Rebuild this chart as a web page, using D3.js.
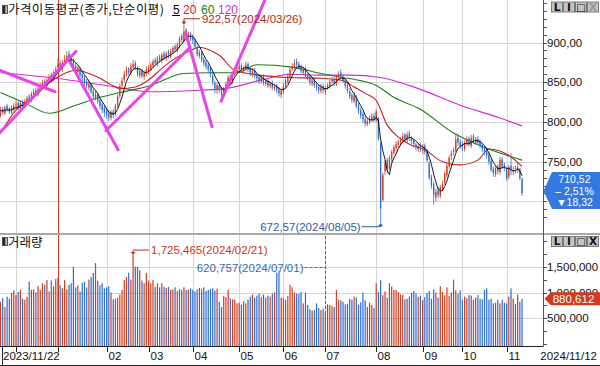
<!DOCTYPE html>
<html><head><meta charset="utf-8">
<script src="https://cdn.jsdelivr.net/npm/d3@7"></script>
<style>
html,body{margin:0;padding:0;background:#fff;}
svg{display:block;}
text{font-family:"Liberation Sans",Arial,sans-serif;}
</style></head><body>
<svg id="c" width="600" height="366"></svg>
<script>
// ---------------- DATA ----------------
const firstDate = "2023/11/22", lastDate = "2024/11/12";
const monthStarts = [7,26,48,67,87,108,128,147,170,191,209,229];
const monthLabels = ["12","01","02","03","04","05","06","07","08","09","10","11"];

const openP = [
808,817,811,820,817,812,815,
821,824,817,825,819,825,832,828,834,840,835,841,845,851,846,852,859,854,860,
869,874,867,874,878,886,881,877,871,863,867,860,856,851,843,847,839,830,834,827,822,818,
814,811,805,813,810,821,833,846,853,860,867,862,869,874,868,858,865,857,861,
864,867,871,878,873,882,877,886,880,888,882,888,895,890,896,908,902,916,905,911,
906,902,894,883,887,879,875,871,867,858,849,840,847,841,835,842,849,857,851,860,867,
866,871,864,867,873,867,860,865,859,856,851,857,848,852,845,849,842,846,841,834,
838,845,851,857,867,869,876,873,869,862,867,859,857,848,853,847,844,839,845,
838,843,845,851,854,848,857,862,857,851,846,839,834,826,831,821,815,810,804,797,800,803,808,
802,805,772,702,738,752,742,754,761,767,771,774,777,784,777,786,779,777,772,766,771,
764,770,763,748,731,722,705,714,707,716,724,733,744,757,762,764,780,775,
772,766,773,779,770,782,774,779,775,771,767,763,759,751,741,734,744,737,753,745,
740,731,745,738,742,739,741,728];
const highP = [
819,819,821,823,819,821,824,
827,826,827,828,829,833,835,838,842,843,845,849,853,854,856,860,862,865,870,
880,877,878,884,889,890,885,880,874,871,869,863,859,854,852,849,842,839,837,829,824,821,
818,815,815,816,823,835,848,856,864,870,869,874,878,877,870,867,867,865,870,
872,875,879,881,883,885,887,889,889,891,892,896,898,900,908,911,922.57,918,914,913,
910,905,897,891,890,882,878,874,869,861,852,849,850,844,844,851,859,860,863,869,873,
875,874,871,876,875,869,868,868,862,860,859,860,855,854,851,852,848,848,844,842,
849,855,861,869,874,879,880,876,872,869,870,862,860,855,856,850,847,848,848,
846,849,853,857,857,859,864,866,860,854,849,842,837,837,834,824,818,813,808,805,808,811,811,
816,806,775,736,752,755,758,765,771,776,778,781,786,786,788,789,782,779,774,773,774,
772,773,766,750,734,725,716,718,721,726,738,748,758,764,768,784,785,779,
776,777,782,782,784,785,781,782,778,774,770,766,762,754,744,745,747,756,756,749,
744,746,761,744,745,748,742,730];
const lowP = [
806,809,809,813,810,810,813,
816,815,814,815,817,822,825,825,831,832,832,839,842,844,843,849,852,851,857,
864,864,863,871,875,877,872,866,862,860,856,851,846,842,840,835,828,827,823,816,811,806,
804,801,802,805,807,818,830,843,850,857,859,859,866,865,857,855,855,853,858,
860,864,868,871,870,875,874,878,877,880,880,885,888,887,893,900,900,905,902,902,
898,892,882,880,875,870,866,862,856,846,836,835,837,828,831,838,846,848,848,857,862,
862,862,861,864,863,858,857,855,851,848,848,846,845,843,842,840,839,836,832,830,
835,842,848,855,864,866,869,865,861,859,855,852,846,845,843,839,835,836,836,
834,840,842,848,845,845,853,855,849,842,836,829,824,824,817,810,804,799,794,795,797,800,800,
800,776,672.57,700,733,736,739,750,758,763,767,770,773,774,773,776,772,768,764,762,762,
760,759,749,727,716,696,700,704,704,713,721,730,741,752,758,762,770,766,
763,763,770,769,767,773,771,771,767,762,758,754,746,737,731,731,734,734,741,738,
726,728,733,733,735,736,727,707];
const closeP = [
815,812,818,816,813,818,820,
822,819,824,818,826,830,828,835,838,836,842,846,849,847,853,857,855,862,866,
872,868,875,879,883,880,876,870,866,868,859,855,850,846,848,838,832,835,826,820,815,812,
810,806,812,809,820,832,845,852,860,866,862,870,873,868,860,864,858,862,866,
868,872,876,874,880,878,884,881,886,883,889,893,891,897,905,903,914,908,910,904,
903,895,885,888,878,874,870,866,860,850,842,846,840,834,841,848,856,852,860,866,868,
870,866,868,872,866,862,864,858,855,852,856,849,851,846,848,843,845,840,836,839,
845,852,858,866,870,874,872,868,864,866,858,856,850,852,846,843,840,844,840,
842,846,850,853,849,856,860,858,852,845,840,832,828,833,820,814,808,803,798,801,804,807,803,
813,779,691,733,748,741,755,762,768,772,775,778,782,778,784,780,776,772,768,770,766,
768,762,752,730,720,708,712,708,718,722,735,745,755,760,765,778,774,770,
768,774,778,772,780,776,778,774,770,766,762,758,750,740,736,742,738,752,744,742,
729,743,740,739,741,743,728.84,710.52];
// volume in thousands of shares
const volumeK = [
820,890,720,920,880,990,1040,
950,1010,1050,880,860,920,1210,1050,1060,1000,1120,1050,1180,1150,1240,1020,1230,1120,1260,
1290,1140,1080,1240,1060,1150,1180,1500,1100,1140,1020,1190,1210,1100,1250,1300,1380,1570,1230,1140,1180,1080,
1100,1120,1000,870,880,900,960,1050,1240,1300,1380,1250,1725.465,1500,1500,1430,1230,1180,1380,
1230,1180,1240,1110,1180,1100,1180,1110,1090,1110,1050,1060,1100,1030,1070,1050,1100,1050,1060,1080,
1050,1020,1060,1090,1060,1100,1030,1050,1070,1080,1040,1070,820,720,930,910,1050,890,870,860,790,
800,760,830,790,860,920,960,900,940,980,910,960,900,940,920,980,1000,1380,1410,900,
890,860,930,1150,1100,1000,980,970,1010,790,1000,760,680,650,660,790,700,660,690,
620.757,770,760,740,720,1050,860,850,820,770,780,880,860,920,900,760,810,1000,850,720,800,760,700,
1180,1010,1240,950,1020,900,1180,1120,1050,1050,1010,960,950,870,880,920,1000,1030,980,920,940,
850,910,990,1030,880,1060,1000,900,1120,1010,950,1100,930,1000,1250,1040,980,1040,
860,920,890,950,940,860,900,950,880,870,1050,1080,860,880,790,800,860,790,860,800,
790,920,1080,880,780,960,820,880.612];

// moving averages: [bar index, value]
const ma20Pts = [[0,786],[7,815],[15,831],[22,849],[29,861],[34,865],[40,861],[45,855],[50,847],[54,842],[61,844],[68,855],[72,865],[79,880],[86,890],[90,894],[95,890],[99,884],[106,865],[117,859],[130,856],[145,855],[155,852],[160,844],[165,836],[170,827],[175,796],[180,781],[185,772],[192,765],[200,750],[208,746],[216,752],[221,766],[231,756],[236,744]];
const ma60Pts = [[0,837],[11,824],[22,811],[34,821],[45,831],[54,837],[68,846],[83,861],[95,862],[107,862],[116,872],[132,869],[145,861],[155,856],[163,852],[170,846],[178,831],[190,816],[205,786],[218,769],[236,752]];
const ma120Pts = [[0,862],[25,855],[50,845],[68,838],[90,840],[102,842],[117,852],[131,860],[145,859],[158,859],[172,856],[190,841],[208,821],[226,805],[236,795]];
// user-drawn trend lines: [[index,value],[index,value]]
const trendLines = [[[-0.2,865],[24.7,838]],[[-1.1,784],[34.2,889]],[[31.5,875],[53.2,765]],[[47.7,789],[85.8,894]],[[83.9,911],[95.7,794]],[[99.8,826],[119.7,954]]];

const priceTicks = [700,750,800,850,900];
const volTicksK = [500,1000,1500];
const legendItems = [{t:"5",c:"#000"},{t:"20",c:"#d02020"},{t:"60",c:"#1e7d1e"},{t:"120",c:"#d22dd2"}];
const lastInfo = ["710,52","– 2,51%","▼18,32"];
const lastVolText = "880,612";
const hiNote = {i:83, v:922.57, t:"922,57(2024/03/26)"};
const loNote = {i:172, v:672.57, t:"672,57(2024/08/05)"};
const vHiNote = {i:60, v:1725.465, t:"1,725,465(2024/02/21)"};
const vLoNote = {i:147, v:620.757, t:"620,757(2024/07/01)"};

// ---------------- DRAW ----------------
const RED="#d33c1d", BLUE="#2c6dd1", GRID="#d6d6d6", AXC="#555";
const n = closeP.length;
const AX = 543.5;
const x = d3.scaleLinear().domain([0,n-1]).range([0.5,522.06]);
const y = d3.scaleLinear().domain([750,900]).range([161.7,42.5]);
const yv = d3.scaleLinear().domain([0,1500]).range([344.1,266.7]);
const svg = d3.select("#c");
const defs = svg.append("defs");
defs.append("clipPath").attr("id","cp").append("rect").attr("x",0).attr("y",0).attr("width",543).attr("height",233);
defs.append("clipPath").attr("id","cv").append("rect").attr("x",0).attr("y",235).attr("width",543).attr("height",111);
svg.append("rect").attr("width",600).attr("height",366).attr("fill","#fff");

const grid = svg.append("g");
priceTicks.forEach(v=>{
  const yy=Math.round(y(v))+0.5;
  grid.append("line").attr("x1",0).attr("x2",543).attr("y1",yy).attr("y2",yy).attr("stroke",GRID);
});
volTicksK.forEach(v=>{
  const yy=Math.round(yv(v))+0.5;
  grid.append("line").attr("x1",0).attr("x2",543).attr("y1",yy).attr("y2",yy).attr("stroke",GRID);
});
monthStarts.forEach((idx,k)=>{
  const px=Math.round(x(idx))+0.5;
  const isYear = monthLabels[k]==="01";
  grid.append("line").attr("x1",px).attr("x2",px).attr("y1",0).attr("y2",346)
    .attr("stroke",isYear?"#d23a2a":GRID);
});

// price panel
const pp = svg.append("g").attr("clip-path","url(#cp)");
const lineS = d3.line().x(d=>x(d[0])).y(d=>y(d[1])).curve(d3.curveMonotoneX);
pp.append("path").attr("d",lineS(ma120Pts)).attr("fill","none").attr("stroke","#d22dd2").attr("stroke-width",1.1);
pp.append("path").attr("d",lineS(ma60Pts)).attr("fill","none").attr("stroke","#1e7d1e").attr("stroke-width",1.1);
pp.append("path").attr("d",lineS(ma20Pts)).attr("fill","none").attr("stroke","#c81e1e").attr("stroke-width",1.1);

closeP.forEach((c,i)=>{
  const col = c>=openP[i]?RED:BLUE;
  const px = x(i);
  pp.append("line").attr("x1",px).attr("x2",px).attr("y1",y(highP[i])).attr("y2",y(lowP[i]))
    .attr("stroke",col).attr("stroke-width",0.8);
  const t=Math.min(y(openP[i]),y(c)), b=Math.max(y(openP[i]),y(c));
  pp.append("rect").attr("x",px-0.65).attr("width",1.3).attr("y",t).attr("height",Math.max(1,b-t)).attr("fill",col);
});
const ma5 = closeP.map((c,i)=>{const s=closeP.slice(Math.max(0,i-4),i+1);return [i,d3.mean(s)];});
pp.append("path").attr("d",d3.line().x(d=>x(d[0])).y(d=>y(d[1]))(ma5)).attr("fill","none").attr("stroke","#000").attr("stroke-width",0.9);

const lineT = d3.line().x(d=>x(d[0])).y(d=>y(d[1]));
trendLines.forEach(tl=>{
  pp.append("path").attr("d",lineT(tl)).attr("stroke","#e646e6").attr("stroke-width",3).attr("fill","none").attr("stroke-linecap","round");
});

// volume panel
const vp = svg.append("g").attr("clip-path","url(#cv)");
volumeK.forEach((v,i)=>{
  const col = closeP[i]>=openP[i]?RED:BLUE;
  vp.append("rect").attr("x",x(i)-0.6).attr("width",1.2).attr("y",yv(v)).attr("height",346-yv(v)).attr("fill",col);
});

// separator and axes
svg.append("rect").attr("x",0).attr("y",233).attr("width",600).attr("height",2).attr("fill","#a8a8a8");
svg.append("line").attr("x1",AX).attr("x2",AX).attr("y1",0).attr("y2",346).attr("stroke",AXC);
svg.append("line").attr("x1",0).attr("x2",AX).attr("y1",346.5).attr("y2",346.5).attr("stroke","#222");
svg.append("line").attr("x1",0).attr("x2",600).attr("y1",365.5).attr("y2",365.5).attr("stroke","#222");
svg.append("line").attr("x1",2.5).attr("x2",2.5).attr("y1",346).attr("y2",366).attr("stroke","#222");

// price ticks
d3.range(680,960,10).forEach(v=>{
  const yy=Math.round(y(v))+0.5;
  if(yy<1||yy>231) return;
  svg.append("line").attr("x1",AX).attr("x2",AX+3.5).attr("y1",yy).attr("y2",yy).attr("stroke",AXC);
});
priceTicks.forEach(v=>{
  if (v===700) return; // hidden behind the last-price box in the reference
  svg.append("text").attr("x",547).attr("y",y(v)).attr("dy","0.36em").attr("font-size",11.5).attr("fill","#111")
    .text(v.toFixed(2).replace(".",","));
});
d3.range(0,2250,250).forEach(v=>{
  const yy=Math.round(yv(v))+0.5;
  if(yy<237||yy>345) return;
  svg.append("line").attr("x1",AX).attr("x2",AX+3.5).attr("y1",yy).attr("y2",yy).attr("stroke",AXC);
});
volTicksK.forEach(v=>{
  svg.append("text").attr("x",547).attr("y",yv(v)).attr("dy","0.36em").attr("font-size",11.5).attr("fill","#111")
    .text(d3.format(",")(v*1000));
});

// x axis labels
monthStarts.forEach((idx,k)=>{
  const px=Math.round(x(idx))+0.5;
  svg.append("line").attr("x1",px).attr("x2",px).attr("y1",346).attr("y2",352).attr("stroke","#222");
  if(px>65) svg.append("text").attr("x",px+1).attr("y",356).attr("dy","0.36em").attr("font-size",11.5).attr("fill","#111").text(monthLabels[k]);
});
svg.append("text").attr("x",3).attr("y",356).attr("dy","0.36em").attr("font-size",11.5).attr("fill","#111").text(firstDate);
svg.append("text").attr("x",597).attr("y",356).attr("dy","0.36em").attr("font-size",11.5).attr("fill","#111").attr("text-anchor","end").text(lastDate);

// legend
function icon(yy){
  svg.append("rect").attr("x",2.5).attr("y",yy).attr("width",5).attr("height",8).attr("fill","#bbb").attr("stroke","#333").attr("stroke-width",0.8);
  svg.append("rect").attr("x",3).attr("y",yy+0.5).attr("width",2.2).attr("height",7).attr("fill","#222");
}
icon(5.5);
svg.append("text").attr("x",8).attr("y",14).attr("font-size",12.5).attr("fill","#111")
  .attr("textLength",156).attr("lengthAdjust","spacing")
  .style("font-family","'Noto Sans CJK KR','Noto Sans',sans-serif").text("가격이동평균(종가,단순이평)");
const legX=[173,183,201,218];
legendItems.forEach((it,k)=>{
  svg.append("text").attr("x",legX[k]).attr("y",14).attr("font-size",12).attr("fill",it.c).text(it.t);
});
svg.append("line").attr("x1",172).attr("x2",180).attr("y1",15.5).attr("y2",15.5).attr("stroke","#000");
icon(237.5);
svg.append("text").attr("x",8).attr("y",247).attr("font-size",12.5).attr("fill","#111")
  .style("font-family","'Noto Sans CJK KR','Noto Sans',sans-serif").text("거래량");

// buttons
function buttons(yy, lastGray){
  const glyph=["L","I","□","X"];
  glyph.forEach((gch,k)=>{
    const bx=551.5+k*12;
    svg.append("rect").attr("x",bx).attr("y",yy).attr("width",11).attr("height",10).attr("fill","#c4c4c4").attr("stroke","#7a7a7a").attr("stroke-width",1);
    svg.append("text").attr("x",bx+5.5).attr("y",yy+5).attr("dy","0.36em").attr("text-anchor","middle")
      .attr("font-size",gch==="□"?10:10.5).attr("font-weight","bold").attr("fill",(lastGray&&k===3)?"#9a9a9a":"#111")
      .style("font-family","'DejaVu Sans',sans-serif").text(gch);
  });
}
buttons(2,true);
buttons(236.5,false);

// annotations
(function(){
  const tx=x(hiNote.i), ty=y(hiNote.v);
  const col="#b02a18";
  const ly=ty-5.8;
  svg.append("path").attr("d",`M${tx},${ly}H${tx+16}M${tx},${ly}V${ty-1}`).attr("stroke",col).attr("fill","none");
  svg.append("path").attr("d",`M${tx-2.5},${ty-3}L${tx+2.5},${ty-3}L${tx},${ty}Z`).attr("fill",col);
  svg.append("text").attr("x",tx+18).attr("y",ly).attr("dy","0.36em").attr("font-size",11.5).attr("fill",col).text(hiNote.t);
})();
(function(){
  const tx=x(loNote.i), ty=y(loNote.v);
  const col="#2f5e9e";
  const ly=ty+3.5;
  svg.append("path").attr("d",`M${tx-19},${ly}H${tx}V${ty+1}`).attr("stroke",col).attr("fill","none");
  svg.append("path").attr("d",`M${tx-2.5},${ty+3}L${tx+2.5},${ty+3}L${tx},${ty}Z`).attr("fill",col);
  svg.append("text").attr("x",tx-20).attr("y",ly).attr("dy","0.36em").attr("text-anchor","end").attr("font-size",11.5).attr("fill",col).text(loNote.t);
})();
(function(){
  const tx=x(vHiNote.i), ty=yv(vHiNote.v);
  const col="#c8341a";
  const ly=ty-5;
  svg.append("path").attr("d",`M${tx},${ly}H${tx+16}M${tx},${ly}V${ty-1}`).attr("stroke",col).attr("fill","none");
  svg.append("path").attr("d",`M${tx-2.5},${ty-3}L${tx+2.5},${ty-3}L${tx},${ty}Z`).attr("fill",col);
  svg.append("text").attr("x",tx+18).attr("y",ly).attr("dy","0.36em").attr("font-size",11.5).attr("fill",col).text(vHiNote.t);
})();
(function(){
  const tx=Math.round(x(vLoNote.i))+0.5;
  const col="#3a6ab2";
  const ly=267.5;
  svg.append("path").attr("d",`M${tx-21},${ly}H${tx}`).attr("stroke",col).attr("stroke-dasharray","3,2").attr("fill","none");
  svg.append("path").attr("d",`M${tx},236V346`).attr("stroke",col).attr("stroke-dasharray","3,2").attr("fill","none");
  svg.append("text").attr("x",tx-22).attr("y",ly).attr("dy","0.36em").attr("text-anchor","end").attr("font-size",11.5).attr("fill",col).text(vLoNote.t);
})();

// last price box
(function(){
  const py=y(closeP[n-1])-2;
  const top=172, bot=209;
  svg.append("path").attr("d",`M${AX},${py}L${552},${top}H600V${bot}H552Z`).attr("fill","#3479e2");
  lastInfo.forEach((t,k)=>{
    svg.append("text").attr("x",574.5).attr("y",top+7+k*11.8).attr("dy","0.36em").attr("text-anchor","middle")
      .attr("font-size",10.5).attr("fill","#fff").style("font-family","'Liberation Sans','DejaVu Sans',sans-serif").text(t);
  });
  const vy=yv(volumeK[n-1]);
  svg.append("path").attr("d",`M${AX+1},${vy}L${551},${vy-6.5}H600V${vy+6.5}H551Z`).attr("fill","#cf3b1b");
  svg.append("text").attr("x",573.5).attr("y",vy).attr("dy","0.36em").attr("text-anchor","middle")
    .attr("font-size",11.5).attr("fill","#fff").text(lastVolText);
})();
</script>
</body></html>
